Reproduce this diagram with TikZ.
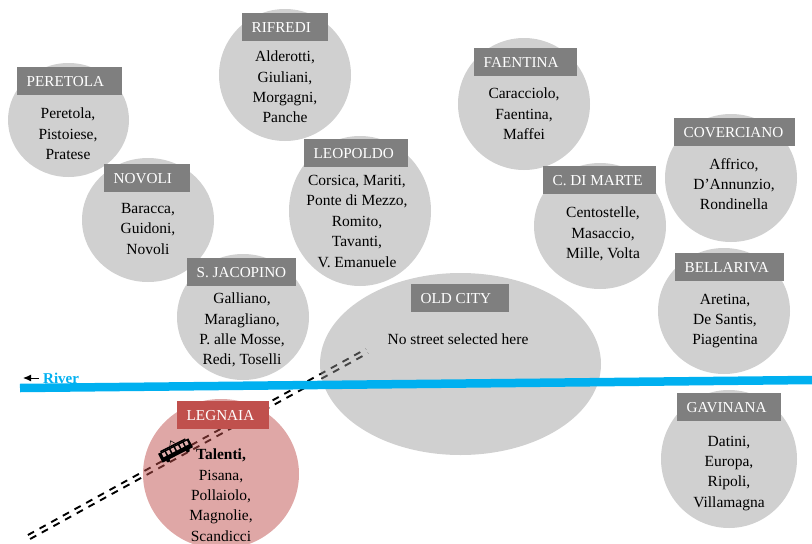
\documentclass[tikz,border=0pt]{standalone}
\usepackage{fontspec}
\setmainfont{Liberation Serif}
\usetikzlibrary{shapes.geometric,arrows.meta}
\definecolor{zonefill}{HTML}{989898}
\definecolor{hotfill}{HTML}{C0504D}
\definecolor{labgray}{HTML}{7F7F7F}
\definecolor{rivercol}{HTML}{00B0F0}
\tikzset{
  x=1pt,y=-1pt,
  zone/.style={ellipse,fill=zonefill,fill opacity=.46,draw=none,inner sep=0pt,minimum width=#1},
  hotzone/.style={ellipse,fill=hotfill,fill opacity=.5,draw=none,inner sep=0pt,minimum width=#1},
  zlabel/.style={anchor=north west,fill=labgray,text=white,inner sep=0pt,font=\fontsize{15.2}{16}\selectfont,minimum height=28pt},
  streets/.style={align=center,text=black,font=\fontsize{15.5}{20.4}\selectfont,inner sep=0pt},
  rail/.style={line width=1.9pt,dash pattern=on 7pt off 6.3pt,black},
}
\newcommand{\zlab}[6]{% name, x1, y1, width, text, colour
  \node[zlabel,fill=#6] (#1) at (#2,#3) {\makebox[#4pt][l]{\hspace{9.5pt}#5}};}
\begin{document}
\begin{tikzpicture}
\useasboundingbox (0,0) rectangle (812,544);
% tracks
\coordinate (ta) at (27.9,535);
\coordinate (tb) at (365.9,349);
\coordinate (tc) at (30.1,539);
\coordinate (td) at (368.1,353);
\draw[rail] (ta) -- (tb);
\draw[rail] (tc) -- (td);
% zones
\begin{scope}
\clip (0,0) rectangle (812,544);
\path (68.5,120) node[zone=121pt,minimum height=114pt] (zperetola) {};
\path (285,75) node[zone=132pt,minimum height=132pt] (zrifredi) {};
\path (524,104) node[zone=132pt,minimum height=132pt] (zfaentina) {};
\path (731,178) node[zone=132pt,minimum height=128pt] (zcoverciano) {};
\path (148,220) node[zone=132pt,minimum height=124pt] (znovoli) {};
\path (360,211) node[zone=142pt,minimum height=150pt] (zleopoldo) {};
\path (600,226) node[zone=132pt,minimum height=126pt] (zmarte) {};
\path (724,311) node[zone=132pt,minimum height=126pt] (zbellariva) {};
\path (243,317) node[zone=132pt,minimum height=126pt] (zjacopino) {};
\path (460.5,364) node[zone=281pt,minimum height=182pt] (zold) {};
\path (729,459) node[zone=136pt,minimum height=138pt] (zgavinana) {};
\path (221,474) node[hotzone=156pt,minimum height=150pt] (zlegnaia) {};
\end{scope}
% river
\coordinate (ra) at (20,388);
\coordinate (rb) at (812,380);
\draw[rivercol,line width=8.5pt] (ra) -- (rb);
\coordinate (aa) at (39,378);
\coordinate (ab) at (23,378);
\draw[-{Latex[length=8pt,width=7pt]},line width=1pt] (aa) -- (ab);
\node[anchor=west,inner sep=0pt,text=rivercol,font=\fontsize{15}{16}\selectfont\bfseries] (river) at (43,378) {River};
% labels
\zlab{lperetola}{17}{67}{105}{PERETOLA}{labgray}
\zlab{lrifredi}{242}{13}{86}{RIFREDI}{labgray}
\zlab{lfaentina}{474}{48}{103}{FAENTINA}{labgray}
\zlab{lcoverciano}{674}{118}{121}{COVERCIANO}{labgray}
\zlab{lnovoli}{104}{164}{86}{NOVOLI}{labgray}
\zlab{lleopoldo}{304}{139}{104}{LEOPOLDO}{labgray}
\zlab{lmarte}{543}{166}{113}{C. DI MARTE}{labgray}
\zlab{lbellariva}{675}{253}{109}{BELLARIVA}{labgray}
\zlab{ljacopino}{187}{258}{109}{S. JACOPINO}{labgray}
\zlab{lold}{411}{284}{98}{OLD CITY}{labgray}
\zlab{lgavinana}{677}{393}{104}{GAVINANA}{labgray}
\zlab{llegnaia}{177}{401}{92}{LEGNAIA}{hotfill}
% streets
\node[streets,anchor=north] (speretola) at (68,108) {Peretola,\\Pistoiese,\\Pratese};
\node[streets,anchor=north] (srifredi) at (285,50.7) {Alderotti,\\Giuliani,\\Morgagni,\\Panche};
\node[streets,anchor=north] (sfaentina) at (524,87.7) {Caracciolo,\\Faentina,\\Maffei};
\node[streets,anchor=north] (scoverciano) at (734,158) {Affrico,\\D’Annunzio,\\Rondinella};
\node[streets,anchor=north] (snovoli) at (148,203) {Baracca,\\Guidoni,\\Novoli};
\node[streets,anchor=north] (sleopoldo) at (357,175) {Corsica, Mariti,\\Ponte di Mezzo,\\Romito,\\Tavanti,\\V. Emanuele};
\node[streets,anchor=north] (smarte) at (603,206.7) {Centostelle,\\Masaccio,\\Mille, Volta};
\node[streets,anchor=north] (sbellariva) at (725,293.7) {Aretina,\\De Santis,\\Piagentina};
\node[streets,anchor=north] (sjacopino) at (242,292.7) {Galliano,\\Maragliano,\\P. alle Mosse,\\Redi, Toselli};
\node[streets,anchor=north] (sold) at (458,334) {No street selected here};
\node[streets,anchor=north] (sgavinana) at (729,435.7) {Datini,\\Europa,\\Ripoli,\\Villamagna};
\node[streets,anchor=north] (slegnaia) at (221,448.7) {\textbf{Talenti,}\\Pisana,\\Pollaiolo,\\Magnolie,\\Scandicci};
% tram
\begin{scope}[shift={(175.5,450.5)},rotate=27]
\fill[black] (-17,-5) rectangle (17,5);
\fill[black] (-14,-6.5) rectangle (14,-5);
\foreach \i in {-12,-7,-2,3,8,13}{\fill[hotfill!45!white] (\i-1.6,-3.5) rectangle (\i+1.6,0.5);}
\draw[black,line width=.5pt] (-3,-6.5) -- (0,-11) -- (3,-6.5);
\fill[black] (-11,5.5) circle (2);
\fill[black] (11,5.5) circle (2);
\end{scope}
\end{tikzpicture}
\end{document}
